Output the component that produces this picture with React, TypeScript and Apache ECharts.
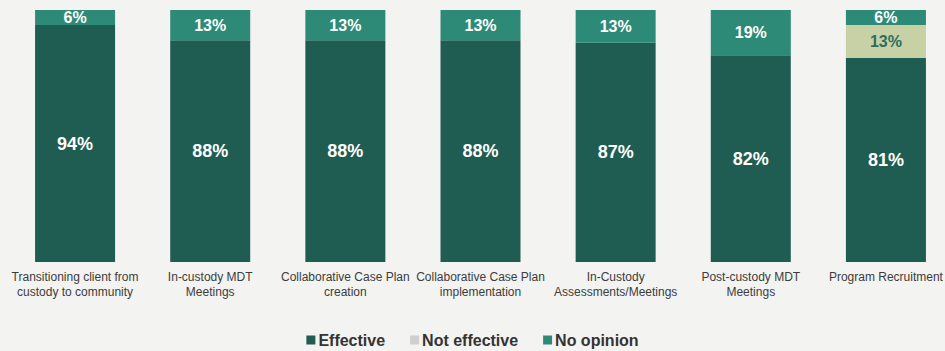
import React, { useEffect, useRef } from "react";
import * as echarts from "echarts";

const categories = [
  "Transitioning client from\ncustody to community",
  "In-custody MDT\nMeetings",
  "Collaborative Case Plan\ncreation",
  "Collaborative Case Plan\nimplementation",
  "In-Custody\nAssessments/Meetings",
  "Post-custody MDT\nMeetings",
  "Program Recruitment",
];
const effective = [94, 88, 88, 88, 87, 82, 81];
const notEffective = [0, 0, 0, 0, 0, 0, 13];
const noOpinion = [6, 13, 13, 13, 13, 19, 6];

const FONT = "'Liberation Sans', Arial, sans-serif";

export default function App() {
  const ref = useRef<HTMLDivElement>(null);
  useEffect(() => {
    const chart = echarts.init(ref.current!, null, { renderer: "svg" });
    const lbl = (color: string, size: number) => ({
      show: true,
      position: "inside",
      color,
      fontFamily: FONT,
      fontWeight: "bold",
      fontSize: size,
      formatter: (p: any) => (p.value > 0 ? p.value + "%" : ""),
    });
    chart.setOption({
      animation: false,
      backgroundColor: "#f3f3f1",
      grid: { left: 7.5, top: 10, width: 946, height: 252, containLabel: false, outerBoundsMode: "none" },
      legend: {
        top: 327,
        left: "center",
        itemWidth: 9,
        itemHeight: 9,
        itemGap: 25,
        icon: "rect",
        textStyle: { fontFamily: FONT, fontWeight: "bold", fontSize: 16, color: "#333", padding: [0, 0, 0, -2] },
        data: [
          { name: "Effective" },
          { name: "Not effective", itemStyle: { color: "#cfcfcf" } },
          { name: "No opinion" },
        ],
      },
      xAxis: {
        type: "category",
        data: categories,
        axisLine: { show: false },
        axisTick: { show: false },
        axisLabel: {
          interval: 0,
          margin: 7,
          fontFamily: FONT,
          fontSize: 12,
          color: "#3c3c3c",
          lineHeight: 15,
        },
      },
      yAxis: {
        type: "value",
        min: 0,
        max: 100,
        show: false,
        splitLine: { show: false },
      },
      series: [
        {
          name: "Effective",
          type: "bar",
          stack: "s",
          barWidth: 80,
          data: effective,
          itemStyle: { color: "#1f5c52" },
          label: lbl("#ffffff", 18),
        },
        {
          name: "Not effective",
          type: "bar",
          stack: "s",
          barWidth: 80,
          data: notEffective,
          itemStyle: { color: "#c8d1a6" },
          label: lbl("#2f6e5c", 16),
        },
        {
          name: "No opinion",
          type: "bar",
          stack: "s",
          barWidth: 80,
          data: noOpinion,
          itemStyle: { color: "#2d8a77" },
          label: lbl("#ffffff", 16),
        },
      ],
    });
    return () => chart.dispose();
  }, []);
  return <div ref={ref} style={{ width: 945, height: 351, position: "absolute", left: 0, top: 0 }} />;
}
